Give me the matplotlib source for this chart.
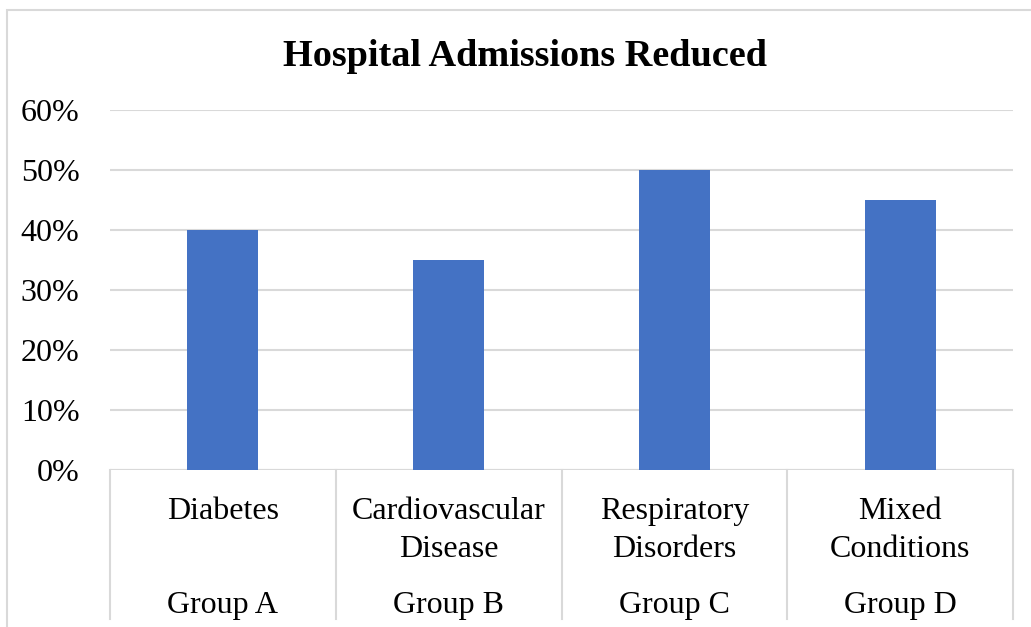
import matplotlib
matplotlib.use("Agg")
import matplotlib.pyplot as plt
from matplotlib.patches import Rectangle
from matplotlib.ticker import PercentFormatter

conditions = ["Diabetes", "Cardiovascular\nDisease", "Respiratory\nDisorders", "Mixed\nConditions"]
groups = ["Group A", "Group B", "Group C", "Group D"]
reduction = [0.40, 0.35, 0.50, 0.45]
y_ticks = [0.0, 0.1, 0.2, 0.3, 0.4, 0.5, 0.6]

W, H, DPI = 1031, 627, 100
plt.rcParams["font.family"] = ["Liberation Serif", "DejaVu Serif"]
grid_color = "#d9d9d9"
bar_color = "#4472C4"
label_size = 23

fig = plt.figure(figsize=(W / DPI, H / DPI), dpi=DPI)

# chart frame (runs past the right and bottom edges)
fig.patches.append(Rectangle((7 / W, -0.05), 1.1, 1 - 10 / H + 0.05,
                             transform=fig.transFigure, fill=False,
                             edgecolor=grid_color, linewidth=1.5))

left, right, top, bottom = 110, 1013, 110, 470
ax = fig.add_axes([left / W, 1 - bottom / H, (right - left) / W, (bottom - top) / H])

x = list(range(len(conditions)))
ax.bar(x, reduction, width=0.315, color=bar_color, zorder=3)

ax.set_xlim(-0.5, len(conditions) - 0.5)
ax.set_ylim(0, 0.6)
ax.set_yticks(y_ticks)
ax.yaxis.set_major_formatter(PercentFormatter(1.0, decimals=0))
ax.grid(axis="y", color=grid_color, linewidth=1.5, zorder=0)
for s in ax.spines.values():
    s.set_visible(False)
ax.tick_params(axis="y", length=0, labelsize=label_size, pad=22)
ax.tick_params(axis="x", length=0, labelbottom=False)
ax.axhline(0, color=grid_color, linewidth=1.5, zorder=2)

# multi-level category axis: separators and labels
sep_len = 149  # pixels below the axis line
for b in [i - 0.5 for i in range(len(conditions) + 1)]:
    ax.plot([b, b], [0, -sep_len / (bottom - top) * 0.6], color=grid_color,
            linewidth=1.5, clip_on=False, zorder=2)

for i, (c, g) in enumerate(zip(conditions, groups)):
    ax.annotate(c, xy=(i, 0), xycoords=("data", "axes fraction"),
                xytext=(0, -27), textcoords="offset pixels",
                ha="center", va="top", fontsize=label_size, linespacing=1.42)
    ax.annotate(g, xy=(i, 0), xycoords=("data", "axes fraction"),
                xytext=(0, -136), textcoords="offset pixels",
                ha="center", va="center", fontsize=label_size)

fig.text(525 / W, 1 - 56 / H, "Hospital Admissions Reduced",
         ha="center", va="center", fontsize=27.5, fontweight="bold")

fig.savefig("out.png", dpi=DPI)
